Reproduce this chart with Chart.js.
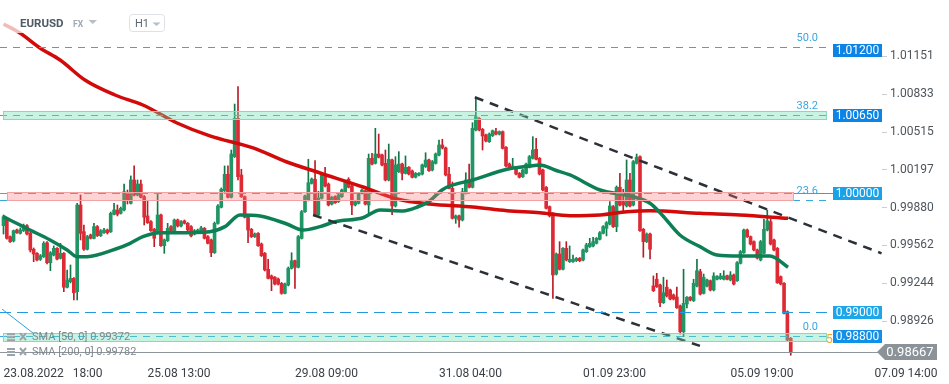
<!DOCTYPE html>
<html>
<head>
<meta charset="utf-8">
<title>EURUSD H1</title>
<script src="https://cdn.jsdelivr.net/npm/chart.js@4.4.1/dist/chart.umd.min.js"></script>
<style>
html,body{margin:0;padding:0;background:#ffffff;overflow:hidden;}
canvas{display:block;}
</style>
</head>
<body>
<canvas id="chart" width="949" height="384"></canvas>
<script>
// ---------------- data ----------------
const xTickIndex = [0, 43, 87, 130, 173, 217, 260];
const xTickLabels = ['23.08.2022   18:00', '25.08 13:00', '29.08 09:00', '31.08 04:00', '01.09 23:00', '05.09 19:00', '07.09 14:00'];
const yTickValues = [1.01151, 1.00833, 1.00515, 1.00197, 0.99880, 0.99562, 0.99244, 0.98926];
const yRange = [0.98625, 1.01624];
const xRange = [-1.045, 262.24];

// hourly candles: [open, high, low, close]
const ohlc = [
[0.99728,0.99818,0.99658,0.99804],[0.99782,0.99790,0.99614,0.99622],[0.99636,0.99642,0.99587,0.99594],[0.99600,0.99692,0.99591,0.99686],
[0.99692,0.99700,0.99663,0.99669],[0.99664,0.99709,0.99658,0.99692],[0.99686,0.99742,0.99679,0.99728],[0.99728,0.99738,0.99650,0.99658],
[0.99664,0.99675,0.99507,0.99524],[0.99530,0.99541,0.99426,0.99490],[0.99496,0.99503,0.99432,0.99440],[0.99446,0.99486,0.99436,0.99476],
[0.99468,0.99594,0.99461,0.99580],[0.99585,0.99595,0.99406,0.99417],[0.99417,0.99511,0.99350,0.99501],[0.99482,0.99558,0.99474,0.99538],
[0.99538,0.99545,0.99440,0.99448],[0.99454,0.99580,0.99448,0.99496],[0.99496,0.99503,0.99174,0.99211],[0.99211,0.99356,0.99205,0.99272],
[0.99258,0.99398,0.99247,0.99286],[0.99286,0.99293,0.99104,0.99165],[0.99174,0.99916,0.99104,0.99902],[0.99902,0.99986,0.99608,0.99664],
[0.99678,0.99734,0.99520,0.99530],[0.99530,0.99646,0.99524,0.99636],[0.99650,0.99658,0.99616,0.99622],[0.99622,0.99748,0.99616,0.99720],
[0.99720,0.99730,0.99637,0.99644],[0.99644,0.99696,0.99637,0.99686],[0.99669,0.99706,0.99663,0.99692],[0.99692,0.99700,0.99658,0.99669],
[0.99678,0.99843,0.99671,0.99832],[0.99824,0.99916,0.99818,0.99860],[0.99860,0.99902,0.99810,0.99824],[0.99832,0.99885,0.99826,0.99874],
[0.99860,1.00078,0.99852,1.00014],[1.00000,1.00028,0.99910,0.99938],[0.99916,1.00146,0.99910,1.00112],[1.00112,1.00230,0.99978,0.99986],
[0.99986,1.00112,0.99978,1.00078],[1.00078,1.00112,0.99961,0.99967],[0.99972,0.99982,0.99734,0.99799],[0.99810,0.99938,0.99747,0.99753],
[0.99762,0.99772,0.99679,0.99686],[0.99698,0.99705,0.99552,0.99622],[0.99678,1.00000,0.99671,0.99818],[0.99818,0.99826,0.99553,0.99560],
[0.99560,0.99616,0.99496,0.99608],[0.99602,0.99748,0.99595,0.99706],[0.99720,0.99730,0.99663,0.99669],[0.99678,0.99784,0.99671,0.99776],
[0.99776,0.99784,0.99717,0.99726],[0.99726,0.99772,0.99717,0.99762],[0.99768,0.99776,0.99742,0.99748],[0.99748,0.99755,0.99684,0.99692],
[0.99720,0.99730,0.99633,0.99642],[0.99658,0.99696,0.99650,0.99686],[0.99669,0.99700,0.99663,0.99692],[0.99678,0.99722,0.99671,0.99709],
[0.99706,0.99713,0.99616,0.99622],[0.99636,0.99646,0.99574,0.99580],[0.99608,0.99616,0.99468,0.99501],[0.99501,0.99759,0.99495,0.99748],
[0.99748,0.99906,0.99740,0.99894],[0.99883,1.00045,0.99877,1.00034],[1.00022,1.00230,1.00015,1.00160],[1.00160,1.00230,0.99961,0.99967],
[0.99967,1.00364,0.99961,1.00330],[1.00308,1.00750,1.00301,1.00630],[1.00630,1.00896,1.00112,1.00140],[1.00154,1.00202,0.99965,0.99972],
[0.99972,0.99978,0.99793,0.99799],[0.99804,0.99810,0.99585,0.99692],[0.99698,0.99705,0.99629,0.99636],[0.99636,0.99667,0.99629,0.99658],
[0.99664,0.99671,0.99553,0.99560],[0.99574,0.99583,0.99469,0.99476],[0.99496,0.99503,0.99348,0.99356],[0.99362,0.99446,0.99280,0.99286],
[0.99306,0.99314,0.99182,0.99280],[0.99295,0.99301,0.99230,0.99238],[0.99280,0.99289,0.99230,0.99238],[0.99244,0.99251,0.99152,0.99160],
[0.99160,0.99247,0.99154,0.99238],[0.99230,0.99381,0.99222,0.99370],[0.99370,0.99501,0.99364,0.99434],[0.99434,0.99440,0.99202,0.99379],
[0.99379,0.99646,0.99373,0.99636],[0.99622,0.99856,0.99616,0.99846],[0.99846,0.99986,0.99839,0.99978],[0.99944,1.00286,0.99936,1.00089],
[1.00084,1.00129,1.00078,1.00120],[1.00118,1.00274,0.99810,0.99818],[0.99818,1.00017,0.99805,0.99961],[0.99958,1.00162,0.99952,1.00154],
[1.00140,1.00219,1.00053,1.00062],[1.00078,1.00087,0.99894,0.99902],[0.99910,0.99973,0.99902,0.99967],[0.99972,0.99978,0.99915,0.99921],
[0.99930,0.99994,0.99923,0.99986],[0.99972,1.00036,0.99965,1.00028],[1.00014,1.00108,1.00007,1.00098],[1.00118,1.00131,1.00045,1.00051],
[1.00062,1.00070,0.99821,0.99902],[0.99902,0.99940,0.99894,0.99930],[0.99916,1.00007,0.99910,1.00000],[1.00000,1.00036,0.99994,1.00028],
[1.00022,1.00028,0.99902,0.99910],[0.99902,1.00330,0.99832,1.00294],[1.00294,1.00336,1.00238,1.00246],[1.00252,1.00546,1.00246,1.00330],
[1.00330,1.00498,1.00297,1.00303],[1.00322,1.00330,1.00230,1.00238],[1.00252,1.00364,1.00104,1.00112],[1.00112,1.00414,1.00104,1.00286],
[1.00280,1.00288,0.99821,0.99894],[0.99894,1.00308,0.99885,1.00238],[1.00182,1.00350,1.00175,1.00246],[1.00246,1.00255,1.00112,1.00168],
[1.00168,1.00314,1.00162,1.00219],[1.00219,1.00225,1.00154,1.00162],[1.00188,1.00196,1.00129,1.00135],[1.00135,1.00175,1.00129,1.00168],
[1.00154,1.00175,1.00146,1.00168],[1.00162,1.00246,1.00154,1.00238],[1.00224,1.00341,1.00217,1.00280],[1.00280,1.00288,1.00183,1.00190],
[1.00196,1.00276,1.00188,1.00266],[1.00252,1.00339,1.00246,1.00330],[1.00322,1.00448,1.00314,1.00406],[1.00406,1.00454,1.00372,1.00381],
[1.00381,1.00389,1.00146,1.00154],[1.00160,1.00219,1.00036,1.00042],[1.00042,1.00095,0.99784,0.99790],[0.99790,0.99818,0.99748,0.99810],
[0.99810,0.99818,0.99715,0.99776],[0.99776,1.00042,0.99768,1.00014],[1.00000,1.00173,0.99994,1.00112],[1.00112,1.00246,1.00045,1.00051],
[1.00051,1.00593,1.00045,1.00546],[1.00532,1.00798,1.00524,1.00644],[1.00630,1.00637,1.00524,1.00532],[1.00538,1.00545,1.00364,1.00482],
[1.00490,1.00498,1.00431,1.00440],[1.00434,1.00507,1.00427,1.00498],[1.00484,1.00532,1.00477,1.00526],[1.00518,1.00546,1.00490,1.00498],
[1.00498,1.00524,1.00490,1.00518],[1.00518,1.00524,1.00372,1.00378],[1.00387,1.00393,1.00221,1.00230],[1.00246,1.00255,1.00213,1.00219],
[1.00219,1.00294,1.00213,1.00230],[1.00219,1.00225,1.00154,1.00162],[1.00168,1.00175,1.00129,1.00135],[1.00140,1.00204,1.00133,1.00196],
[1.00168,1.00255,1.00162,1.00246],[1.00219,1.00318,1.00213,1.00308],[1.00294,1.00476,1.00288,1.00364],[1.00370,1.00462,1.00280,1.00286],
[1.00294,1.00301,1.00154,1.00162],[1.00196,1.00204,1.00020,1.00028],[1.00051,1.00057,0.99868,0.99874],[0.99888,0.99894,0.99801,0.99810],
[0.99832,0.99839,0.99118,0.99314],[0.99322,0.99499,0.99314,0.99490],[0.99490,0.99594,0.99356,0.99362],[0.99362,0.99545,0.99356,0.99538],
[0.99538,0.99594,0.99432,0.99440],[0.99426,0.99558,0.99419,0.99446],[0.99426,0.99482,0.99419,0.99446],[0.99434,0.99461,0.99427,0.99454],
[0.99454,0.99461,0.99426,0.99434],[0.99440,0.99532,0.99432,0.99524],[0.99510,0.99580,0.99503,0.99566],[0.99552,0.99622,0.99545,0.99580],
[0.99558,0.99631,0.99549,0.99594],[0.99580,0.99629,0.99574,0.99622],[0.99614,0.99679,0.99608,0.99669],[0.99664,0.99730,0.99658,0.99720],
[0.99706,0.99763,0.99642,0.99753],[0.99742,0.99930,0.99734,0.99894],[0.99888,0.99898,0.99713,0.99720],[0.99720,1.00062,0.99678,1.00051],
[1.00051,1.00168,0.99894,0.99902],[0.99930,1.00034,0.99854,0.99902],[0.99894,1.00280,0.99885,1.00112],[1.00112,1.00168,0.99885,0.99894],
[0.99902,1.00276,0.99894,1.00266],[1.00252,1.00330,1.00246,1.00303],[1.00308,1.00314,0.99679,0.99686],[0.99698,0.99705,0.99463,0.99594],
[0.99594,0.99667,0.99587,0.99658],[0.99658,0.99667,0.99448,0.99530],[0.99222,0.99306,0.99175,0.99182],[0.99278,0.99328,0.99209,0.99216],
[0.99230,0.99238,0.99048,0.99081],[0.99081,0.99295,0.99075,0.99165],[0.99211,0.99272,0.99129,0.99138],[0.99188,0.99196,0.99104,0.99112],
[0.99146,0.99154,0.99104,0.99112],[0.99129,0.99213,0.99033,0.99039],[0.99054,0.99062,0.98818,0.98838],[0.98838,0.99362,0.98796,0.99076],
[0.99070,0.99133,0.99037,0.99127],[0.99127,0.99133,0.99096,0.99104],[0.99098,0.99278,0.99091,0.99244],[0.99222,0.99446,0.99213,0.99350],
[0.99342,0.99362,0.99146,0.99154],[0.99160,0.99322,0.99154,0.99295],[0.99222,0.99280,0.99213,0.99272],[0.99266,0.99272,0.99180,0.99188],
[0.99188,0.99333,0.99180,0.99306],[0.99278,0.99310,0.99272,0.99300],[0.99283,0.99328,0.99276,0.99306],[0.99278,0.99350,0.99272,0.99306],
[0.99306,0.99314,0.99272,0.99278],[0.99272,0.99342,0.99264,0.99314],[0.99314,0.99322,0.99230,0.99238],[0.99266,0.99427,0.99259,0.99417],
[0.99412,0.99520,0.99406,0.99510],[0.99501,0.99700,0.99495,0.99692],[0.99692,0.99700,0.99629,0.99636],[0.99636,0.99642,0.99566,0.99574],
[0.99594,0.99600,0.99516,0.99524],[0.99524,0.99532,0.99448,0.99457],[0.99440,0.99604,0.99432,0.99594],[0.99496,0.99782,0.99490,0.99698],
[0.99692,0.99860,0.99684,0.99770],[0.99762,0.99782,0.99566,0.99574],[0.99608,0.99616,0.99516,0.99524],[0.99538,0.99545,0.99243,0.99249],
[0.99300,0.99306,0.99230,0.99238],[0.99244,0.99251,0.98986,0.98992],[0.99006,0.99012,0.98760,0.98768],[0.98782,0.98789,0.98640,0.98667]
];

// moving averages: [candle index, value]
const sma50 = [[0,0.99804],[1.9,0.99776],[7.9,0.99692],[13.9,0.99608],[19,0.99524],[21.9,0.99468],[24.9,0.99468],[33.3,0.99530],
[37.8,0.99580],[41.6,0.99636],[46.7,0.99669],[51.8,0.99669],[61.6,0.99678],[66.1,0.99720],[70.6,0.99818],[76.6,0.99810],
[84.6,0.99742],[89.4,0.99692],[94.5,0.99720],[99,0.99762],[107.3,0.99795],[112.4,0.99860],[119.3,0.99852],[123.4,0.99883],
[127.3,0.99938],[130.9,1.00028],[133.3,1.00062],[140.1,1.00112],[150.3,1.00202],[157.2,1.00230],[160.1,1.00238],[164.6,1.00196],
[169.1,1.00154],[178.1,1.00028],[187.9,0.99972],[193,0.99916],[196.6,0.99818],[201.9,0.99650],[207.9,0.99552],[213,0.99482],
[219.8,0.99474],[228.8,0.99474],[234.2,0.99379]];
const sma200 = [[0,1.01422],[4.9,1.01347],[10.9,1.01221],[16.9,1.01120],[24.3,1.00952],[33.3,1.00826],[41.6,1.00742],[51.8,1.00591],
[61.6,1.00482],[74.5,1.00381],[84.6,1.00263],[94.5,1.00171],[107.3,1.00053],[117.5,0.99952],[127.3,0.99910],[140.1,0.99885],
[150.3,0.99854],[160.1,0.99837],[169.1,0.99812],[178.1,0.99818],[186.1,0.99846],[193,0.99854],[207.9,0.99832],[219.8,0.99818],
[234.2,0.99790]];

// drawn objects
const trendUpper = [[140.7, 1.00807], [262.1, 0.99496]];
const trendLower = [[92.4, 0.99818], [207.9, 0.98718]];
const fibAnchor = [[-0.45, 0.99028], [8.9, 0.98824]];
const fibNames = ['50.0', '38.2', '23.6', '0.0'];
const fibPrices = [1.01229, 1.00658, 0.99944, 0.98800];
const alertPrices = [1.01200, 1.00650, 1.00000, 0.99000, 0.98800];
const zoneTops = [1.00692, 1.00009, 0.98824];
const zoneBottoms = [1.00624, 0.99938, 0.98754];
const zoneKinds = ['green', 'red', 'green'];
const lastPrice = 0.98667;
const smaLegend = ['SMA [50, 0] 0.99372', 'SMA [200, 0] 0.99782'];
const symbolName = 'EURUSD', symbolGroup = 'FX', timeframe = 'H1';

// ---------------- drawing ----------------
const UP = '#1f9663', UP_W = '#127648', DN = '#dd2a35', DN_W = '#bb1d28';
const isUp = i => ohlc[i][3] >= ohlc[i][0];
const pts = arr => arr.map(p => ({x: p[0], y: p[1]}));

function hline(ctx, x1, x2, py) {
  const yy = Math.round(py) + 0.5;
  ctx.beginPath(); ctx.moveTo(x1, yy); ctx.lineTo(x2, yy); ctx.stroke();
}

const decor = {
  id: 'decor',
  afterDatasetsDraw(chart) {
    const {ctx, chartArea: ca, scales: {y}} = chart;
    const Y = v => y.getPixelForValue(v);
    const boxL = ca.right - 49;
    const fibEnd = boxL - 7;
    ctx.save();
    ctx.lineWidth = 1;
    // alert level 0.99000
    ctx.strokeStyle = '#2399e0'; ctx.setLineDash([11, 6]);
    hline(ctx, ca.left, boxL, Y(alertPrices[3]));
    // alert 1.00000
    ctx.strokeStyle = '#48a9e2'; ctx.setLineDash([8, 6]);
    hline(ctx, ca.left, ca.right - 89, Y(alertPrices[2]));
    ctx.setLineDash([]); ctx.strokeStyle = '#2aa3e6';
    hline(ctx, ca.right - 89, boxL, Y(alertPrices[2]));
    // fibonacci levels
    ctx.strokeStyle = '#3aa6de'; ctx.setLineDash([7, 6]);
    fibPrices.forEach(p => hline(ctx, ca.left, fibEnd, Y(p)));
    ctx.setLineDash([]);
    // zones
    zoneTops.forEach((t, k) => {
      const y1 = Y(t), y2 = Y(zoneBottoms[k]);
      const x1 = ca.left + (zoneKinds[k] === 'red' ? 7 : 3);
      const x2 = zoneKinds[k] === 'red' ? ca.right - 89 : fibEnd;
      ctx.fillStyle = zoneKinds[k] === 'red' ? 'rgba(246,120,120,0.32)' : 'rgba(110,222,176,0.38)';
      ctx.fillRect(x1, y1, x2 - x1, y2 - y1);
      ctx.strokeStyle = zoneKinds[k] === 'red' ? '#f3a3a3' : '#8ad8b6';
      ctx.strokeRect(Math.round(x1) + 0.5, Math.round(y1) + 0.5, Math.round(x2 - x1), Math.round(y2 - y1));
    });
    // last price line
    ctx.strokeStyle = '#8d959b';
    hline(ctx, ca.left, ca.right - 4, Y(lastPrice));
    ctx.restore();
  },
  afterDraw(chart) {
    const {ctx, chartArea: ca, scales: {y}} = chart;
    const Y = v => y.getPixelForValue(v);
    const boxL = ca.right - 49;
    const fibEnd = boxL - 7;
    ctx.save();
    // fib labels
    ctx.font = '11px Roboto'; ctx.fillStyle = '#3aa6de';
    ctx.textAlign = 'right'; ctx.textBaseline = 'middle';
    fibNames.forEach((n, k) => ctx.fillText(n, fibEnd - 8, Y(fibPrices[k]) - 9));
    ctx.fillStyle = '#f5a524'; ctx.textAlign = 'left'; ctx.font = '12px Roboto';
    ctx.fillText('5', fibEnd, Y(alertPrices[4]) + 4);
    // alert boxes
    const boxColors = ['#0a84e6', '#0a84e6', '#1aa2e8', '#1ea6ea', '#1090e8'];
    ctx.font = '12px Roboto'; ctx.textAlign = 'center';
    alertPrices.forEach((p, k) => {
      const cy = Y(p);
      ctx.fillStyle = boxColors[k];
      ctx.fillRect(boxL, Math.round(cy - 6.5), 49, 13);
      ctx.fillStyle = '#ffffff';
      ctx.fillText(p.toFixed(5), boxL + 24.5, cy + 0.5);
    });
    // last price tag
    const ly = Y(lastPrice);
    ctx.fillStyle = '#8b9398';
    ctx.beginPath();
    ctx.moveTo(ca.right - 5, ly); ctx.lineTo(ca.right + 3, ly - 8); ctx.lineTo(ca.right + 55, ly - 8);
    ctx.lineTo(ca.right + 55, ly + 8); ctx.lineTo(ca.right + 3, ly + 8); ctx.closePath(); ctx.fill();
    ctx.fillStyle = '#ffffff'; ctx.font = '13px Roboto'; ctx.textAlign = 'center';
    ctx.fillText(lastPrice.toFixed(5), ca.right + 28, ly + 0.5);
    // SMA legend
    const legY = [Y(alertPrices[4]) + 1, Y(lastPrice)];
    legY.forEach((ly2, k) => {
      ctx.fillStyle = '#9aa3aa';
      ctx.fillRect(7, ly2 - 4, 8, 2); ctx.fillRect(7, ly2 - 1, 8, 2); ctx.fillRect(7, ly2 + 2, 8, 2);
      ctx.strokeStyle = '#9aa3aa'; ctx.lineWidth = 2;
      ctx.beginPath(); ctx.moveTo(20, ly2 - 4); ctx.lineTo(26, ly2 + 3); ctx.moveTo(26, ly2 - 4); ctx.lineTo(20, ly2 + 3); ctx.stroke();
      ctx.fillStyle = '#7f898f'; ctx.font = '11px Roboto'; ctx.textAlign = 'left';
      ctx.fillText(smaLegend[k], 32, ly2);
    });
    // header
    ctx.fillStyle = 'rgba(255,255,255,0.72)';
    ctx.fillRect(0, 0, 175, 33);
    ctx.textBaseline = 'middle'; ctx.textAlign = 'left';
    ctx.fillStyle = '#4f5a64'; ctx.font = 'bold 11.5px Roboto';
    ctx.fillText(symbolName, 20, 24);
    ctx.fillStyle = '#9ea8b0'; ctx.font = 'bold 8.5px Roboto';
    ctx.fillText(symbolGroup, 73, 25);
    ctx.fillStyle = '#b7bec4';
    ctx.beginPath(); ctx.moveTo(88.5, 20); ctx.lineTo(97, 20); ctx.lineTo(92.75, 24); ctx.closePath(); ctx.fill();
    ctx.strokeStyle = '#dde1e5'; ctx.lineWidth = 1;
    ctx.beginPath(); ctx.roundRect(129.5, 14.5, 35, 17, 3); ctx.stroke();
    ctx.fillStyle = '#5b6670'; ctx.font = '11px Roboto';
    ctx.fillText(timeframe, 135, 24);
    ctx.fillStyle = '#b7bec4';
    ctx.beginPath(); ctx.moveTo(152.5, 22.5); ctx.lineTo(160.5, 22.5); ctx.lineTo(156.5, 26); ctx.closePath(); ctx.fill();
    ctx.restore();
  }
};

const wickData = ohlc.map((c, i) => ({x: i, y: [c[2], c[1]]}));
const bodyData = ohlc.map((c, i) => ({x: i, y: [c[0], c[3]]}));

new Chart(document.getElementById('chart'), {
  type: 'bar',
  data: {
    datasets: [
      {type: 'line', label: 'trend upper', data: pts(trendUpper), borderColor: '#2b3137', borderWidth: 2.5,
       borderDash: [9, 7], pointRadius: 0, order: 1},
      {type: 'line', label: 'trend lower', data: pts(trendLower), borderColor: '#2b3137', borderWidth: 2.5,
       borderDash: [9, 7], pointRadius: 0, order: 1},
      {type: 'line', label: 'fib anchor', data: pts(fibAnchor), borderColor: '#2aa0e0', borderWidth: 1,
       pointRadius: 0, order: 1},
      {type: 'line', label: 'SMA 50', data: pts(sma50), borderColor: '#0d7f55', borderWidth: 3.5,
       pointRadius: 0, cubicInterpolationMode: 'monotone', order: 2},
      {type: 'line', label: 'SMA 200', data: pts(sma200), borderColor: '#d20a0a', borderWidth: 3.5,
       pointRadius: 0, cubicInterpolationMode: 'monotone', order: 3},
      {label: 'body', data: bodyData, barThickness: 3, minBarLength: 1, grouped: false, borderWidth: 0,
       backgroundColor: c => isUp(c.dataIndex) ? UP : DN, order: 4},
      {label: 'wick', data: wickData, barThickness: 1, grouped: false, borderWidth: 0,
       backgroundColor: c => isUp(c.dataIndex) ? UP_W : DN_W, order: 5}
    ]
  },
  options: {
    responsive: false,
    animation: false,
    devicePixelRatio: 1,
    layout: {padding: 0},
    plugins: {legend: {display: false}, tooltip: {enabled: false}},
    scales: {
      x: {
        type: 'linear', min: xRange[0], max: xRange[1], offset: false,
        grid: {display: false, offset: false}, border: {display: false},
        afterBuildTicks: s => { s.ticks = xTickIndex.map(v => ({value: v})); },
        afterFit: s => { s.height = 27; s.paddingLeft = 0; s.paddingRight = 0; },
        ticks: {
          autoSkip: false, maxRotation: 0, minRotation: 0, align: 'start', padding: 2,
          color: '#3b4046', font: {family: 'Roboto', size: 12},
          callback: (v, i) => xTickLabels[i]
        }
      },
      y: {
        type: 'linear', position: 'right', min: yRange[0], max: yRange[1],
        grid: {drawOnChartArea: false, drawTicks: true, tickLength: 5, color: '#c9ced2'},
        border: {display: false},
        afterBuildTicks: s => { s.ticks = yTickValues.map(v => ({value: v})); },
        afterFit: s => { s.width = 67; s.paddingTop = 0; s.paddingBottom = 0; },
        ticks: {
          padding: 3, color: '#4d555c', font: {family: 'Roboto', size: 12},
          callback: v => Number(v).toFixed(5)
        }
      }
    }
  },
  plugins: [decor]
});
</script>
</body>
</html>
